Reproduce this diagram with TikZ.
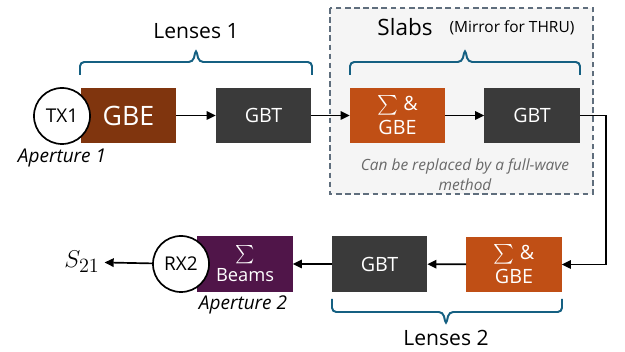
\documentclass[tikz,border=0pt]{standalone}
\usepackage{amsmath,amssymb}
\usepackage[no-math]{fontspec}
\setmainfont{Open Sans}
\usepackage{tikz}
\usetikzlibrary{arrows.meta}
\definecolor{gbebrown}{RGB}{128,53,14}
\definecolor{gbeorange}{RGB}{192,79,21}
\definecolor{gbtgray}{RGB}{58,58,58}
\definecolor{beampurple}{RGB}{80,21,73}
\definecolor{bracketblue}{RGB}{21,96,130}
\definecolor{slabfill}{RGB}{245,245,245}
\definecolor{slabedge}{RGB}{95,110,125}
\definecolor{notegray}{RGB}{105,105,105}
\tikzset{>={Triangle[length=6.5pt,width=6pt]}}
\tikzset{%
    block/.style={draw=none, fill=#1, text=white, minimum width=2.375cm, minimum height=1.375cm,
        inner sep=0pt, align=center, font=\fontsize{14}{17}\selectfont},
    port/.style={draw, line width=1.2pt, circle, fill=white, minimum size=1.4cm, inner sep=0pt,
        font=\fontsize{13.5}{15}\selectfont},
    flow/.style={->, line width=1.2pt},
    lens/.style={line width=1.4pt, draw=bracketblue, rounded corners=3pt},
    caption/.style={font=\fontsize{15}{17}\selectfont},
    aperture/.style={font=\fontsize{13.5}{16}\selectfont\itshape}
}

\begin{document}
\begin{tikzpicture}[x=0.025cm,y=-0.025cm]
    \useasboundingbox (0,0) rectangle (625,352);
    \draw[slabedge, dash pattern=on 4pt off 2.5pt, line width=0.8pt, fill=slabfill] (330,8) rectangle (593,194);
    \node[caption, font=\fontsize{16}{18}\selectfont] (slabs) at (405,27) {Slabs};
    \node[font=\fontsize{11}{13}\selectfont] (mirror) at (512,28) {(Mirror for THRU)};
    \node[text=notegray, align=center, font=\fontsize{11}{14}\selectfont\itshape] (note) at (465,175) {Can be replaced by a full-wave\\method};

    \node[block=gbebrown, font=\fontsize{19}{21}\selectfont] (gbe1) at (128.5,115.5) {GBE};
    \node[port] (tx1) at (62,116) {TX1};
    \node[aperture] (ap1) at (62,158) {Aperture 1};
    \node[block=gbtgray] (gbt1) at (263.5,115.5) {GBT};
    \node[block=gbeorange] (sg1) at (397.5,115.5) {$\sum$ \&\\GBE};
    \node[block=gbtgray] (gbt2) at (532,115.5) {GBT};

    \node[block=gbeorange] (sg2) at (514,264.5) {$\sum$ \&\\GBE};
    \node[block=gbtgray] (gbt3) at (379.5,264) {GBT};
    \node[block=beampurple, font=\fontsize{13}{16}\selectfont] (beams) at (245,264) {$\sum$\\Beams};
    \node[port] (rx2) at (181,264) {RX2};
    \node[aperture] (ap2) at (243,305) {Aperture 2};
    \node[font=\fontsize{19}{21}\selectfont] (s21) at (82,262) {$S_{21}$};

    \draw[flow] (gbe1) -- (gbt1);
    \draw[flow] (gbt1) -- (sg1);
    \draw[flow] (sg1) -- (gbt2);
    \draw[flow] (gbt2.east) -- ++(26,0) |- (sg2.east);
    \draw[flow] (sg2) -- (gbt3);
    \draw[flow] (gbt3) -- (beams);
    \draw[flow] (rx2) -- (s21);

    \draw[lens] (80,75) -- (80,62) -- (193,62) -- (196,49) -- (199,62) -- (312,62) -- (312,75);
    \node[caption] (lens1) at (196,31) {Lenses 1};
    \draw[lens] (350,75) -- (350,62) -- (462,62) -- (465,49) -- (468,62) -- (580,62) -- (580,75);
    \draw[lens] (332,299) -- (332,312) -- (443,312) -- (446,325) -- (449,312) -- (562,312) -- (562,299);
    \node[caption] (lens2) at (446,338) {Lenses 2};
\end{tikzpicture}
\end{document}
